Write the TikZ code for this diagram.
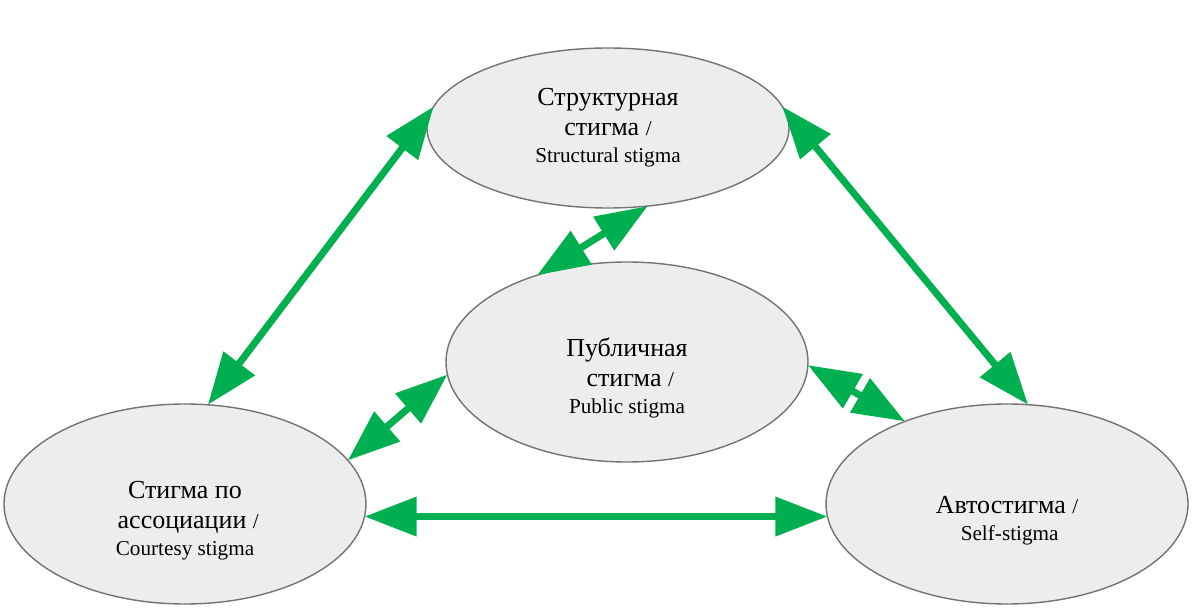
\documentclass[tikz,border=0pt]{standalone}
\usepackage{fontspec}
\setmainfont{Liberation Serif}
\usetikzlibrary{arrows.meta,shapes.geometric}

\definecolor{arrowgreen}{HTML}{00B050}
\definecolor{bubblefill}{HTML}{EDEDED}

\newcommand{\ensize}{\fontsize{10.6}{13.5}\selectfont}

\tikzset{
  bubble/.style={ellipse, draw=gray!90!black, fill=bubblefill, line width=0.7pt,
    minimum width=181pt, minimum height=100pt, inner sep=0pt, outer sep=0pt},
  bubble-text/.style={align=center, font=\fontsize{13}{15}\selectfont},
  link/.style={arrowgreen, line width=3.5pt, >={Triangle[length=26pt, width=19pt]}, <->}
}

\begin{document}
\begin{tikzpicture}[x=0.5pt, y=-0.5pt]

    \useasboundingbox (0,0) rectangle (1199,614);

% elipses
\node[bubble, minimum height=80pt] (structural) at (608,128) {};
\node[bubble] (public) at (627,362) {};
\node[bubble] (courtesy) at (185,504) {};
\node[bubble] (self) at (1007,504) {};

% textos
\node[bubble-text] (structural-text) at (structural.center)
  {Структурная\\ стигма {\ensize /}\\[-1.5pt] {\ensize Structural stigma}};
\node[bubble-text, yshift=-8pt] (public-text) at (public.center)
  {Публичная\\ \ стигма {\ensize /}\\[-1.5pt] {\ensize Public stigma}};
\node[bubble-text, yshift=-8.5pt] (courtesy-text) at (courtesy.center)
  {Стигма по\\ \ ассоциации {\ensize /}\\[-1.5pt] {\ensize Courtesy stigma}};
\node[bubble-text, yshift=-8.5pt] (self-text) at (self.center)
  {Автостигма {\ensize /}\\[-1.5pt] {\ensize \ Self-stigma}};

% setas
\draw[link] (courtesy.77) -- (structural.173);
\draw[link] (structural.7) -- (self.78);
\draw[link] (public.136) -- (structural.297);
\draw[link] (courtesy.15) -- (public.184);
\draw[link] (public.359) -- (self.141);
\draw[link] (courtesy.356) -- (self.184);

  \end{tikzpicture}
\end{document}
